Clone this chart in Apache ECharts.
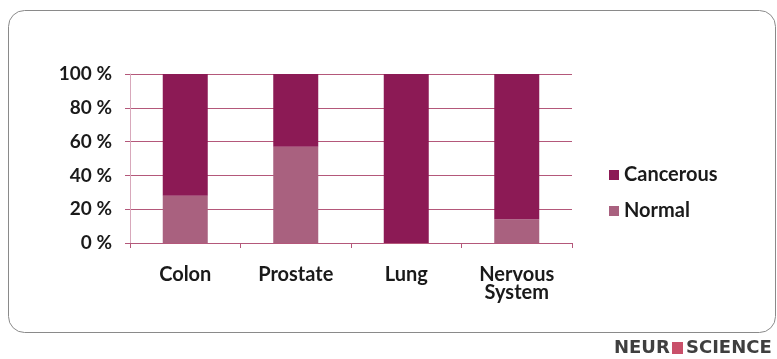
<!DOCTYPE html>
<html>
<head>
<meta charset="utf-8">
<script src="https://cdn.jsdelivr.net/npm/echarts@6/dist/echarts.min.js"></script>
<style>
  html, body { margin: 0; padding: 0; background: #ffffff; }
  #chart { width: 777px; height: 359px; }
</style>
</head>
<body>
<div id="chart"></div>
<script>
// Share of tissue samples, per organ
const categories = ['Colon', 'Prostate', 'Lung', 'Nervous\nSystem'];
const normalPct = [28, 57, 0, 14];
const cancerousPct = [72, 43, 100, 86];
const yTicks = [0, 20, 40, 60, 80, 100];

const cancerColor = '#8c1a55';
const normalColor = '#a9617f';
const gridColor = '#b4587a';
const labelFont = 'Lato, "Open Sans", sans-serif';
const logoFont = 'bold 18px "DejaVu Sans", sans-serif';

const chart = echarts.init(document.getElementById('chart'));
chart.setOption({
  animation: false,
  grid: { left: 130, right: 205, top: 74, bottom: 116 },
  legend: {
    orient: 'vertical',
    left: 604,
    top: 160,
    itemGap: 16,
    itemWidth: 10,
    itemHeight: 10,
    icon: 'rect',
    data: ['Cancerous', 'Normal'],
    textStyle: {
      fontFamily: labelFont, fontWeight: 'bold', fontSize: 20, lineHeight: 20,
      color: '#1a1a1a'
    }
  },
  xAxis: {
    type: 'category',
    data: categories,
    axisLine: { lineStyle: { color: gridColor, width: 1 } },
    axisTick: { show: true, length: 5, lineStyle: { color: gridColor } },
    axisLabel: {
      fontFamily: labelFont, fontWeight: 'bold', fontSize: 20, color: '#1a1a1a',
      margin: 23, lineHeight: 18
    }
  },
  yAxis: {
    type: 'value',
    min: 0,
    max: 100,
    interval: 20,
    axisLine: { show: true, lineStyle: { color: '#d8a8bb', width: 1 } },
    axisTick: { show: true, length: 5, lineStyle: { color: gridColor } },
    splitLine: { lineStyle: { color: gridColor, width: 1 } },
    axisLabel: {
      fontFamily: labelFont, fontWeight: 'bold', fontSize: 19, color: '#1a1a1a',
      margin: 18,
      formatter: v => (yTicks.includes(v) ? v + ' %' : '')
    }
  },
  series: [
    {
      name: 'Normal',
      type: 'bar',
      stack: 'share',
      barWidth: 45,
      data: normalPct,
      itemStyle: { color: normalColor }
    },
    {
      name: 'Cancerous',
      type: 'bar',
      stack: 'share',
      barWidth: 45,
      data: cancerousPct,
      itemStyle: { color: cancerColor }
    }
  ],
  graphic: [
    {
      type: 'rect',
      shape: { x: 8.5, y: 10.5, width: 767, height: 322, r: 16 },
      style: { fill: 'none', stroke: '#8a8a8a', lineWidth: 1 },
      z: -1
    },
    {
      type: 'text',
      x: 614,
      y: 348,
      style: { text: 'NEUR', font: logoFont, fill: '#3f3f3f', verticalAlign: 'middle' }
    },
    {
      type: 'rect',
      shape: { x: 672, y: 342, width: 11, height: 12 },
      style: { fill: '#c9506a' }
    },
    {
      type: 'text',
      x: 686,
      y: 348,
      style: { text: 'SCIENCE', font: logoFont, fill: '#3f3f3f', verticalAlign: 'middle' }
    }
  ]
});
</script>
</body>
</html>
